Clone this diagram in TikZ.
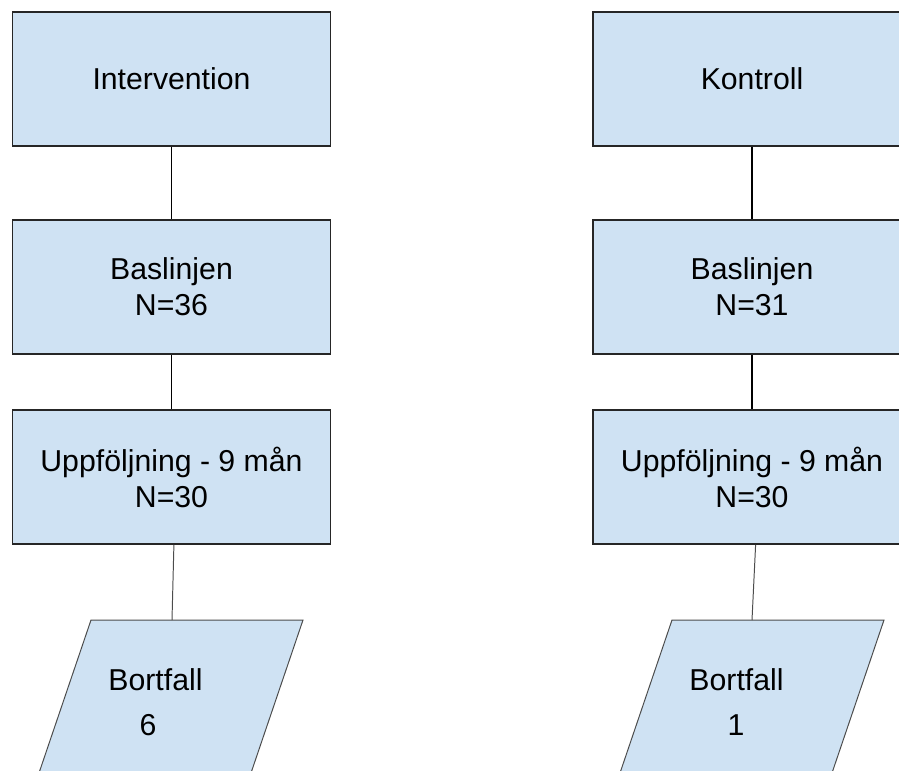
\documentclass[tikz,border=0pt]{standalone}
\usepackage{fontspec}
\setmainfont{Liberation Sans}
\definecolor{boxblue}{HTML}{CFE2F3}

\begin{document}
\begin{tikzpicture}[x=0.025cm, y=-0.025cm,
  stage/.style={draw=black!85, line width=1.3pt, fill=boxblue, minimum width=7.95cm,
    minimum height=3.35cm, align=center, font=\fontsize{21.5}{25.6}\selectfont},
  dropout/.style={draw=black!70, line width=0.7pt, fill=boxblue},
  txt/.style={font=\fontsize{21.5}{25.6}\selectfont},
  link/.style={draw=black, line width=1.1pt},
  thinlink/.style={draw=black!70, line width=0.7pt}]

\useasboundingbox (0,0) rectangle (899,770);
\clip (0,0) rectangle (899,770);

% Intervention group
\node[stage] (intI) at (171.5,79) {Intervention};
\node[stage] (basI) at (171.5,287) {Baslinjen\\N=36};
\node[stage] (uppI) at (171.5,477) {Uppföljning - 9 mån\\N=30};

% Control group
\node[stage] (intK) at (752,79) {Kontroll};
\node[stage] (basK) at (752,287) {Baslinjen\\N=31};
\node[stage] (uppK) at (752,477) {Uppföljning - 9 mån\\N=30};

% Dropout parallelograms (cut off by the lower edge)
\draw[dropout] (91,620) -- (303,620) -- (245.2,790) -- (33.2,790) -- cycle;
\draw[dropout] (672,620) -- (884,620) -- (826.2,790) -- (614.2,790) -- cycle;
\coordinate (bortItop) at (172,620);
\coordinate (bortKtop) at (752,620);

% Lines
\draw[link] (intI) -- (basI);
\draw[link] (basI) -- (uppI);
\draw[thinlink] ([xshift=0.06cm]uppI.south) -- (bortItop);
\draw[link] (intK) -- (basK);
\draw[link] (basK) -- (uppK);
\draw[thinlink] ([xshift=0.09cm]uppK.south) -- (bortKtop);

% Labels in the dropout boxes
\node[txt] (bortItxt) at (155.5,680) {Bortfall};
\node[txt] (bortInum) at (148,725) {6};
\node[txt] (bortKtxt) at (736.5,680) {Bortfall};
\node[txt] (bortKnum) at (736,725) {1};

\end{tikzpicture}
\end{document}
